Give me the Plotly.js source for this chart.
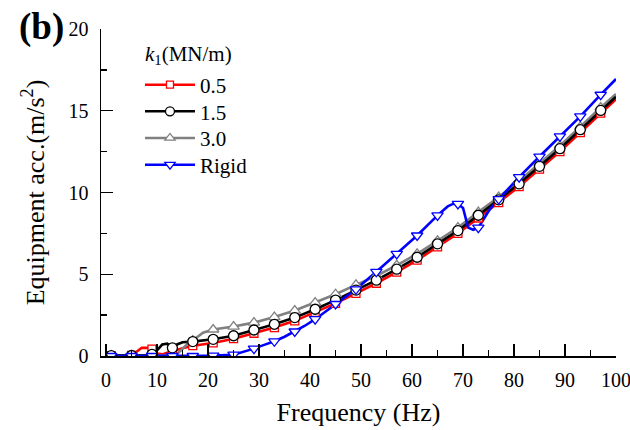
<!DOCTYPE html>
<html>
<head>
<meta charset="utf-8">
<script src="https://cdn.plot.ly/plotly-3.0.1.min.js"></script>
<style>html,body{margin:0;padding:0;background:#fff;}#chart{width:630px;height:430px;}</style>
</head>
<body>
<div id="chart"></div>
<script>
// ---- Data (Frequency in Hz, acceleration in m/s^2) ----
const seriesNames = ["0.5", "1.5", "3.0", "Rigid"];

const freqK05 = [0,1,5,6,7,8,9,10,11,12,13,15,17,21,25,29,33,37,41,45,49,53,57,61,65,69,73,77,81,85,89,93,97,100];
const accK05  = [0,0.02,0.03,0.25,0.5,0.5,0.42,0.15,0.1,0.2,0.3,0.48,0.63,0.8,1.06,1.39,1.74,2.15,2.67,3.22,3.83,4.45,5.13,5.86,6.68,7.5,8.44,9.38,10.36,11.43,12.5,13.66,14.85,15.7];

const freqK15 = [0,1,5,8,9,10,11,12,13,14,15,17,21,25,29,33,37,41,45,49,53,57,61,65,69,73,77,81,85,89,93,97,100];
const accK15  = [0,0.02,0.03,0.04,0.1,0.35,0.7,0.75,0.5,0.72,0.84,0.88,1.02,1.24,1.59,1.94,2.35,2.86,3.42,4.03,4.64,5.31,6.04,6.86,7.67,8.61,9.55,10.53,11.6,12.68,13.84,15.02,15.86];

const freqK30 = [0,1,5,9,13,14,15,16,17,18,19,21,25,29,33,37,41,45,49,53,57,61,65,69,73,77,81,85,89,93,97,100];
const accK30  = [0,0.02,0.03,0.03,0.05,0.15,0.45,0.75,0.95,1.2,1.42,1.62,1.8,2.04,2.38,2.78,3.27,3.78,4.35,4.9,5.55,6.25,7.05,7.85,8.8,9.72,10.7,11.78,12.86,14.02,15.2,16.02];

const freqRigid = [0,1,5,9,13,17,21,25,27,29,31,33,35,37,39,41,43,45,47,49,53,57,61,65,66,67,68,69,70,70.5,71,72,73,74,75,76,77,81,85,89,93,97,100];
const accRigid  = [0,0,0,0,0,0,0.02,0.08,0.25,0.45,0.68,0.9,1.18,1.5,1.85,2.25,2.7,3.18,3.62,4.08,5.15,6.25,7.37,8.6,8.9,9.15,9.3,9.3,9.05,8.5,7.85,7.72,7.85,8.35,8.85,9.25,9.6,10.94,12.2,13.43,14.66,15.98,16.94];

// ---- Styles ----
const colors  = ["#ff0000", "#000000", "#808080", "#0000ff"];
const symbols = ["square", "circle", "triangle-up", "triangle-down"];
const msizes  = [8, 10, 10, 10];
const legendIds = ["legend", "legend2", "legend3", "legend4"];
const legendRowsY = [0.8287, 0.7471, 0.6657, 0.5841];

const xs = [freqK05, freqK15, freqK30, freqRigid];
const ys = [accK05, accK15, accK30, accRigid];

function isMarkerFreq(f) { return Number.isInteger(f) && f % 4 === 1; }

const FAMILY = '"Liberation Serif", "Times New Roman", Times, serif';
function fnt(size) { return {family: FAMILY, size: size, color: "#000"}; }

const traces = [];
// legend entries (one small legend per series, to match the row spacing)
for (let i = 0; i < 4; i++) {
  traces.push({
    type: "scatter", mode: "lines+markers", x: [null], y: [null],
    name: seriesNames[i], legendgroup: "g" + i, legend: legendIds[i],
    line: {color: colors[i], width: 2.5},
    marker: {symbol: symbols[i], size: msizes[i] - 1, color: "#ffffff",
             line: {color: colors[i], width: 1.3}}
  });
}
const drawOrder = [0, 2, 1, 3];
for (const i of drawOrder) {
  traces.push({
    type: "scatter", mode: "lines", x: xs[i], y: ys[i],
    legendgroup: "g" + i, showlegend: false, hoverinfo: "skip",
    line: {color: colors[i], width: 2.6}
  });
}
for (const i of drawOrder) {
  const mx = [], my = [];
  xs[i].forEach((f, k) => { if (isMarkerFreq(f)) { mx.push(f); my.push(ys[i][k]); } });
  traces.push({
    type: "scatter", mode: "markers", x: mx, y: my,
    legendgroup: "g" + i, showlegend: false,
    marker: {symbol: symbols[i], size: msizes[i], color: "#ffffff",
             line: {color: colors[i], width: 1.3}}
  });
}

const layout = {
  width: 630, height: 430,
  margin: {l: 101, r: 14, t: 29, b: 74},
  paper_bgcolor: "#fff", plot_bgcolor: "#fff",
  font: fnt(20),
  showlegend: true,
  xaxis: {
    range: [-1, 100], tick0: 0, dtick: 10,
    showgrid: false, zeroline: false, showline: true, linecolor: "#000", linewidth: 1.5,
    ticks: "inside", ticklen: 12, tickwidth: 1.3, tickcolor: "#000",
    minor: {dtick: 5, ticks: "inside", ticklen: 6, tickwidth: 1.3, tickcolor: "#000", showgrid: false},
    tickfont: fnt(20), ticklabelstandoff: 5, ticklabeloverflow: "allow",
    title: {text: "Frequency (Hz)", font: fnt(26), standoff: 13}
  },
  yaxis: {
    range: [0, 20], tick0: 0, dtick: 5,
    showgrid: false, zeroline: false, showline: true, linecolor: "#000", linewidth: 1.5,
    ticks: "inside", ticklen: 12, tickwidth: 1.3, tickcolor: "#000",
    minor: {dtick: 2.5, ticks: "inside", ticklen: 6, tickwidth: 1.3, tickcolor: "#000", showgrid: false},
    tickfont: fnt(20), ticklabelstandoff: 7, ticklabeloverflow: "allow",
    title: {text: "Equipment acc.(m/s<sup>2</sup>)", font: fnt(26), standoff: 16}
  },
  annotations: [
    {
      text: "<b>(b)</b>", xref: "paper", yref: "paper", x: -0.1165, y: 1.0046,
      xanchor: "center", yanchor: "middle", showarrow: false, font: fnt(37)
    },
    {
      text: "<i>k</i><sub>1</sub>(MN/m)", xref: "paper", yref: "paper", x: 0.0816, y: 0.921,
      xanchor: "left", yanchor: "middle", showarrow: false, font: fnt(21)
    }
  ]
};
for (let i = 0; i < 4; i++) {
  layout[legendIds[i]] = {
    x: 0.0757, y: legendRowsY[i], xanchor: "left", yanchor: "middle",
    bgcolor: "rgba(0,0,0,0)", borderwidth: 0, itemwidth: 50,
    font: fnt(21)
  };
}

Plotly.newPlot("chart", traces, layout, {displayModeBar: false, staticPlot: true});
</script>
</body>
</html>
